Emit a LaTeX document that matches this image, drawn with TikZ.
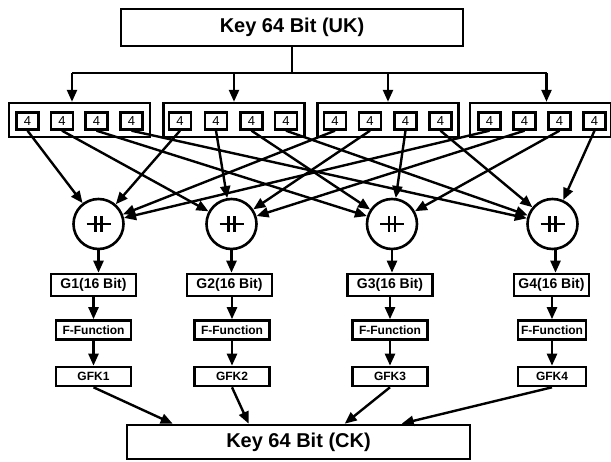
\documentclass[tikz,border=0pt]{standalone}
\usepackage{fontspec}
\setmainfont{Liberation Sans}
\usepackage{tikz}
\usetikzlibrary{arrows.meta,calc}
\tikzset{
  keybox/.style={draw,line width=2.6pt,minimum width=342pt,minimum height=37pt,font=\fontsize{20}{24}\selectfont\bfseries},
  grp/.style={draw,line width=2.4pt,minimum width=141pt,minimum height=34pt},
  nib/.style={draw,line width=2.4pt,minimum width=22pt,minimum height=17pt,inner sep=0pt,font=\fontsize{13}{15}\selectfont},
  cat/.style={draw,circle,line width=2.6pt,minimum size=50pt,inner sep=0pt,
    path picture={\draw[line width=2.2pt] ([xshift=-12pt]path picture bounding box.center) -- ++(24pt,0);
      \draw[line width=2.2pt] ([xshift=-3pt,yshift=-8pt]path picture bounding box.center) -- ++(0,16pt);
      \draw[line width=2.2pt] ([xshift=3pt,yshift=-8pt]path picture bounding box.center) -- ++(0,16pt);}},
  gbox/.style={draw,line width=2.6pt,minimum width=85pt,minimum height=22pt,inner sep=1pt,font=\fontsize{14}{16}\selectfont\bfseries},
  fbox/.style={draw,line width=2.6pt,minimum width=75pt,minimum height=19pt,inner sep=1pt,font=\fontsize{12}{14}\selectfont\bfseries},
  arr/.style={-{Triangle[length=12pt,width=10pt]},line width=2.4pt},
  bus/.style={line width=2.4pt},
}
\begin{document}
\begin{tikzpicture}[x=1pt,y=-1pt]
\useasboundingbox (0,0) rectangle (611,462);
\node[keybox] (uk) at (292,27.5) {Key 64 Bit (UK)};
\node[grp] (ga) at (79.5,120) {};
\node[grp] (gb) at (234,120) {};
\node[grp] (gc) at (388,120) {};
\node[grp] (gd) at (540.5,120) {};
\node[nib] (a1) at (27.5,121) {4}; \node[nib] (a2) at (62,121) {4}; \node[nib] (a3) at (96.5,121) {4}; \node[nib] (a4) at (131.5,121) {4};
\node[nib] (b1) at (180,121) {4}; \node[nib] (b2) at (216,121) {4}; \node[nib] (b3) at (251.5,121) {4}; \node[nib] (b4) at (286,121) {4};
\node[nib] (c1) at (335,121) {4}; \node[nib] (c2) at (370,121) {4}; \node[nib] (c3) at (405.5,121) {4}; \node[nib] (c4) at (440.5,121) {4};
\node[nib] (d1) at (489.5,121) {4}; \node[nib] (d2) at (524.5,121) {4}; \node[nib] (d3) at (559.5,121) {4}; \node[nib] (d4) at (594.5,121) {4};
\coordinate (split) at (0,73);
\draw[bus] (uk.south) -- (uk.south |- split);
\draw[bus] ([xshift=-7.5pt]ga.north |- split) -- ([xshift=6pt]gd.north |- split);
\draw[arr] ([xshift=-7.5pt]ga.north |- split) -- ([xshift=-7.5pt]ga.north);
\draw[arr] (gb.north |- split) -- (gb.north);
\draw[arr] (gc.north |- split) -- (gc.north);
\draw[arr] ([xshift=6pt]gd.north |- split) -- ([xshift=6pt]gd.north);
\node[cat] (j1) at (98.5,224) {};
\node[cat] (j2) at (231.5,224) {};
\node[cat] (j3) at (392,224) {};
\node[cat] (j4) at (552.5,224) {};
\draw[arr] (a1.south) -- (j1); \draw[arr] (b1.south) -- (j1); \draw[arr] (c1.south) -- (j1); \draw[arr] (d1.south) -- (j1);
\draw[arr] (a2.south) -- (j2); \draw[arr] (b2.south) -- (j2); \draw[arr] (c2.south) -- (j2); \draw[arr] (d2.south) -- (j2);
\draw[arr] (a3.south) -- (j3); \draw[arr] (b3.south) -- (j3); \draw[arr] (c3.south) -- (j3); \draw[arr] (d3.south) -- (j3);
\draw[arr] (a4.south) -- (j4); \draw[arr] (b4.south) -- (j4); \draw[arr] (c4.south) -- (j4); \draw[arr] (d4.south) -- (j4);
\node[gbox] (g1) at (93.5,285) {G1(16 Bit)};
\node[gbox] (g2) at (229.5,285) {G2(16 Bit)};
\node[gbox] (g3) at (390,285) {G3(16 Bit)};
\node[gbox,minimum width=75pt] (g4) at (551.5,285) {G4(16 Bit)};
\node[fbox] (f1) at (93.5,330) {F-Function};
\node[fbox] (f2) at (232,330) {F-Function};
\node[fbox] (f3) at (390,330) {F-Function};
\node[fbox,minimum width=68pt] (f4) at (552,330) {F-Function};
\node[fbox] (k1) at (93.5,376.5) {GFK1};
\node[fbox] (k2) at (232,376.5) {GFK2};
\node[fbox] (k3) at (390,376.5) {GFK3};
\node[fbox,minimum width=68pt] (k4) at (552,376.5) {GFK4};
\draw[arr] (j1.south) -- (j1.south |- g1.north);
\draw[arr] (j2.south) -- (j2.south |- g2.north);
\draw[arr] (j3.south) -- (j3.south |- g3.north);
\draw[arr] ([xshift=3pt]j4.south) -- ([xshift=3pt]j4.south |- g4.north);
\draw[arr] (g1.south) -- (g1.south |- f1.north);
\draw[arr] (f2.north |- g2.south) -- (f2.north);
\draw[arr] (g3.south) -- (g3.south |- f3.north);
\draw[arr] (f4.north |- g4.south) -- (f4.north);
\draw[arr] (f1.south) -- (k1.north);
\draw[arr] (f2.south) -- (k2.north);
\draw[arr] (f3.south) -- (k3.north);
\draw[arr] (f4.south) -- (k4.north);
\node[keybox,minimum width=343pt,minimum height=34pt] (ck) at (298.5,442) {Key 64 Bit (CK)};
\draw[arr] (k1.south) -- ([xshift=47pt]ck.north west);
\draw[arr] (k2.south) -- ([xshift=123pt]ck.north west);
\draw[arr] (k3.south) -- ([xshift=219pt]ck.north west);
\draw[arr] (k4.south) -- ([xshift=276pt]ck.north west);
\end{tikzpicture}
\end{document}
